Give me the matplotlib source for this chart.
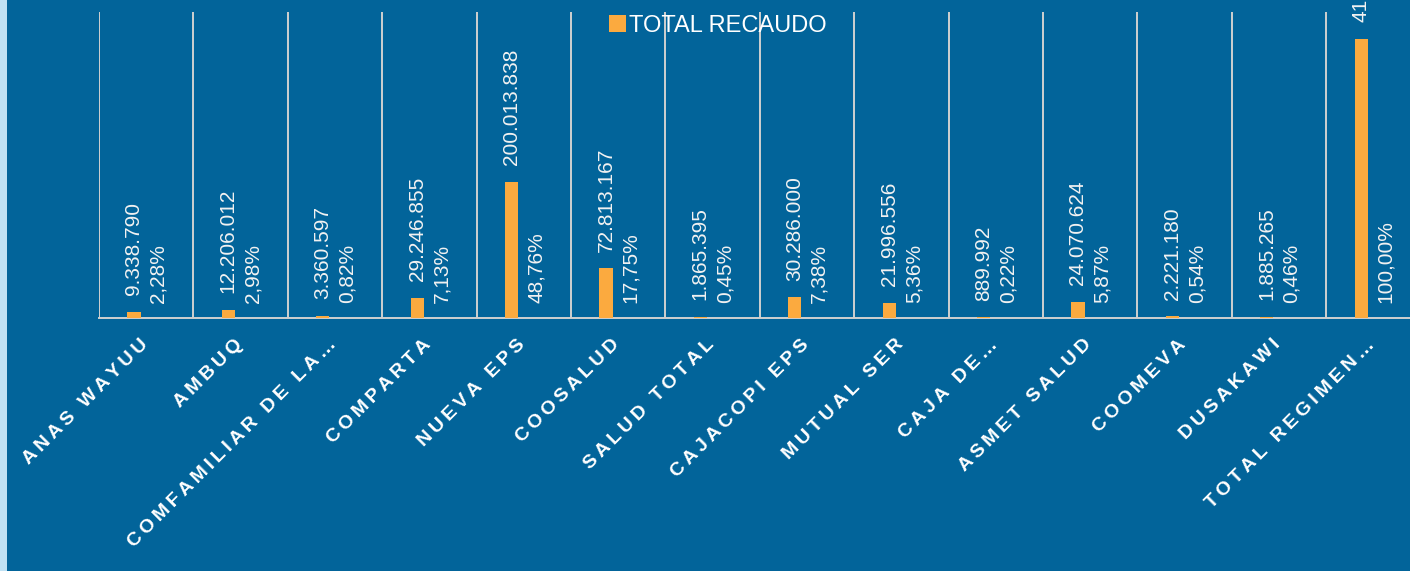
import matplotlib
matplotlib.use("Agg")
import matplotlib.pyplot as plt
from matplotlib.patches import Rectangle, Patch
from matplotlib.transforms import ScaledTranslation

# --- data ---
categories = ["ANAS WAYUU", "AMBUQ", "COMFAMILIAR DE LA…", "COMPARTA", "NUEVA EPS",
              "COOSALUD", "SALUD TOTAL", "CAJACOPI EPS", "MUTUAL SER", "CAJA DE…",
              "ASMET SALUD", "COOMEVA", "DUSAKAWI", "TOTAL REGIMEN…"]
recaudo = [9338790, 12206012, 3360597, 29246855, 200013838, 72813167, 1865395,
           30286000, 21996556, 889992, 24070624, 2221180, 1885265, 410194271]
porcentaje = [2.28, 2.98, 0.82, 7.13, 48.76, 17.75, 0.45, 7.38, 5.36, 0.22,
              5.87, 0.54, 0.46, 100.00]
legend_label = "TOTAL RECAUDO"

BG = "#02649a"
ORANGE = "#fbaa3f"
GRID = "#d0d0d0"
TXT = "#f2f2f2"

W, H = 1410, 571
fig = plt.figure(figsize=(W / 100, H / 100), dpi=100)
fig.patch.set_facecolor(BG)
# light strip on the far left edge
fig.add_artist(Rectangle((0, 0), 7 / W, 1, transform=fig.transFigure,
                         facecolor="#bfe1f4", edgecolor="none", zorder=0))

# plot area runs past the right edge, like the original screenshot
ax = fig.add_axes([99 / W, (H - 318) / H, 14 * 94.4 / W, 306 / H])
ax.set_facecolor(BG)

x = list(range(len(categories)))
off = 0.13
bars = ax.bar([i - off for i in x], recaudo, width=0.14, color=ORANGE, zorder=3,
              label=legend_label)

ax.set_xlim(-0.5, len(categories) - 0.5)
ax.set_ylim(0, 450e6)
ax.set_yticks([])

# vertical gridlines between categories
ax.set_xticks([i - 0.5 for i in x], minor=True)
ax.grid(True, which="minor", axis="x", color=GRID, lw=1.4, zorder=1)
ax.tick_params(which="both", length=0)

for s in ["top", "right", "left"]:
    ax.spines[s].set_visible(False)
ax.spines["bottom"].set_color(GRID)
ax.spines["bottom"].set_linewidth(1.4)


def spaced(s):
    # the original labels use wide letter spacing
    return "\u2009".join(s)


ax.set_xticks(x)
ax.set_xticklabels([spaced(c) for c in categories], rotation=45, ha="right",
                   va="top", rotation_mode="anchor", fontsize=14,
                   fontweight="bold", color="white",
                   family=["Liberation Sans", "DejaVu Sans"])
ax.tick_params(axis="x", which="major", pad=13)
shift = ScaledTranslation(-7 / 100, 0, fig.dpi_scale_trans)
for lab in ax.get_xticklabels():
    lab.set_transform(lab.get_transform() + shift)

for i, v, p in zip(x, recaudo, porcentaje):
    ax.annotate(f"{v:,}".replace(",", "."), (i - off, v), xytext=(0, 12),
                textcoords="offset points", rotation=90, ha="center", va="bottom",
                fontsize=15, color=TXT, family="Liberation Sans",
                annotation_clip=False, clip_on=False)
    ax.annotate(f"{p:.2f}".replace(".", ",") + "%", (i + off, 0), xytext=(0, 11),
                textcoords="offset points", rotation=90, ha="center", va="bottom",
                fontsize=15, color=TXT, family="Liberation Sans")

fig.legend(handles=[Patch(facecolor=ORANGE, label=legend_label)],
           loc="center", bbox_to_anchor=(718 / W, 1 - 26 / H), frameon=False,
           handlelength=0.7, handleheight=0.7, handletextpad=0.15,
           prop={"family": "Liberation Sans", "size": 17}, labelcolor="white")

fig.savefig("out.png", dpi=100, facecolor=BG)
